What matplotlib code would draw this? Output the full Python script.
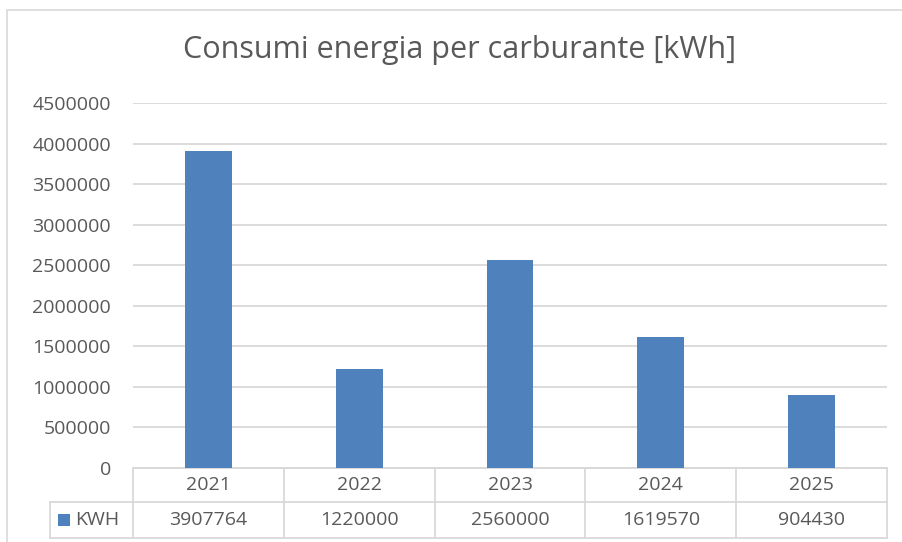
import numpy as np
import matplotlib.pyplot as plt
from matplotlib.patches import Rectangle
from matplotlib.transforms import blended_transform_factory

anni = ['2021', '2022', '2023', '2024', '2025']
kwh = [3907764, 1220000, 2560000, 1619570, 904430]
serie = 'KWH'
titolo = 'Consumi energia per carburante [kWh]'

plt.rcParams['font.family'] = ['Open Sans', 'DejaVu Sans']
grigio = '#595959'
griglia = '#d9d9d9'
blu = '#4f81bd'

W, H = 902, 542
fig = plt.figure(figsize=(W / 100, H / 100), dpi=100)
# bordo del grafico
fig.patches.append(Rectangle((7 / W, -0.05), 1.0, 1 - 10 / H + 0.05, transform=fig.transFigure,
                             fill=False, edgecolor=griglia, linewidth=1.2))

x0, x1, yb, yt = 133, 887, 468, 103
ax = fig.add_axes([x0 / W, 1 - yb / H, (x1 - x0) / W, (yb - yt) / H])
x = np.arange(len(anni))
ax.bar(x, kwh, width=0.31, color=blu, zorder=3)
ax.set_xlim(-0.5, len(anni) - 0.5)
ax.set_ylim(0, 4500000)
ax.set_yticks(np.arange(0, 4500001, 500000))
ax.set_yticklabels([str(v) for v in range(0, 4500001, 500000)])
ax.tick_params(axis='y', length=0, labelsize=14, labelcolor=grigio, pad=16)
ax.set_xticks([])
ax.grid(axis='y', color=griglia, linewidth=1.3, zorder=0)
for s in ['top', 'right', 'left']:
    ax.spines[s].set_visible(False)
ax.spines['bottom'].set_color(griglia)
ax.spines['bottom'].set_linewidth(1.3)

fig.text(460 / W, 1 - 50 / H, titolo, ha='center', va='center', fontsize=22, color=grigio)

# tabella dati
tr = blended_transform_factory(ax.transData, ax.transAxes)
ah = yb - yt
r1 = -(502 - yb) / ah
r2 = -(538 - yb) / ah
xl = -0.5 - (x0 - 50) / ((x1 - x0) / len(anni))
kw = dict(transform=tr, clip_on=False, color=griglia, linewidth=1.3)
ax.plot([-0.5, len(anni) - 0.5], [0, 0], **kw)
ax.plot([xl, len(anni) - 0.5], [r1, r1], **kw)
ax.plot([xl, len(anni) - 0.5], [r2, r2], **kw)
for k in range(len(anni) + 1):
    ax.plot([k - 0.5, k - 0.5], [0, r2], **kw)
ax.plot([xl, xl], [r1, r2], **kw)
for i, (a, v) in enumerate(zip(anni, kwh)):
    ax.text(i, r1 / 2, a, transform=tr, ha='center', va='center', fontsize=14, color=grigio)
    ax.text(i, (r1 + r2) / 2, str(v), transform=tr, ha='center', va='center', fontsize=14, color=grigio)
fig.patches.append(Rectangle((58 / W, 1 - 526 / H), 12 / W, 12 / H, transform=fig.transFigure,
                             facecolor=blu, edgecolor='none'))
fig.text(75 / W, 1 - 520 / H, serie, ha='left', va='center', fontsize=14, color=grigio)

fig.savefig('out.png', dpi=100)
